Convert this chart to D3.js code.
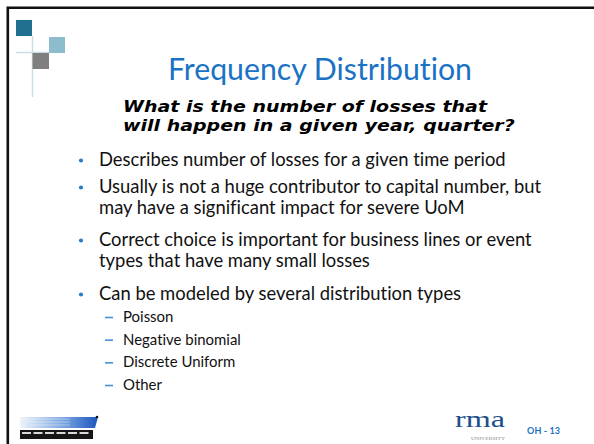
<!DOCTYPE html>
<html>
<head>
<meta charset="utf-8">
<script src="https://cdn.jsdelivr.net/npm/d3@7"></script>
<style>
  body { margin: 0; background: #fff; }
  svg { display: block; }
  text { font-variant-ligatures: none; font-feature-settings: "liga" 0; }
</style>
</head>
<body>
<svg width="594" height="444"></svg>
<script>
// slide content
const titleText = "Frequency Distribution";
const questionLines = ["What is the number of losses that", "will happen in a given year, quarter?"];
const bulletLines = [
  ["Describes number of losses for a given time period"],
  ["Usually is not a huge contributor to capital number, but", "may have a significant impact for severe UoM"],
  ["Correct choice is important for business lines or event", "types that have many small losses"],
  ["Can be modeled by several distribution types"]
];
const subItems = ["Poisson", "Negative binomial", "Discrete Uniform", "Other"];
const footerCode = "OH - 13";

// layout
const W = 594, H = 444;
const blue = "#1a72c4";
const bodyFont = "Lato, 'Open Sans', sans-serif";
const paraTop = [166, 193, 246, 300];
const wrapGap = 21;

const svg = d3.select("svg");
svg.append("rect").attr("width", W).attr("height", H).attr("fill", "#fff");

// frame (top + left)
svg.append("path")
  .attr("d", `M7.8,${H} L7.8,7.8 L${W},7.8`)
  .attr("fill", "none").attr("stroke", "#111").attr("stroke-width", 2.6);

// corner logo
const logo = svg.append("g");
logo.append("line").attr("x1", 32.5).attr("x2", 32.5).attr("y1", 36).attr("y2", 97)
  .attr("stroke", "#c9dde6").attr("stroke-width", 1.4);
logo.append("line").attr("x1", 16).attr("x2", 49).attr("y1", 52.5).attr("y2", 52.5)
  .attr("stroke", "#c9dde6").attr("stroke-width", 1.4);
logo.append("rect").attr("x", 16).attr("y", 20).attr("width", 16).attr("height", 16).attr("fill", "#21708f");
logo.append("rect").attr("x", 49).attr("y", 37).attr("width", 16).attr("height", 16).attr("fill", "#8dbccd");
logo.append("rect").attr("x", 32.5).attr("y", 53).attr("width", 16.5).attr("height", 16).attr("fill", "#7f7f7f");

function fit(sel, target) {
  const len = sel.node().getComputedTextLength();
  const fs = parseFloat(sel.attr("font-size"));
  sel.attr("font-size", fs * target / len);
}

// title
const title = svg.append("text")
  .attr("x", 168).attr("y", 80)
  .attr("font-family", bodyFont).attr("font-size", 30)
  .attr("fill", blue).text(titleText);
fit(title, 304);

// question (wide bold italic, stretched to the reference width)
const q = svg.selectAll("text.q").data(questionLines).enter().append("text")
  .attr("class", "q")
  .attr("x", 123)
  .attr("y", (d, i) => 112 + i * 19)
  .attr("font-family", "'DejaVu Sans', sans-serif")
  .attr("font-weight", "bold").attr("font-style", "italic")
  .attr("font-size", 15.5)
  .attr("fill", "#000")
  .text(d => d);
const qLens = q.nodes().map(n => n.getComputedTextLength());
const qScale = 364 / qLens[0];
q.attr("textLength", (d, i) => qLens[i] * qScale).attr("lengthAdjust", "spacingAndGlyphs");

// bullets
const body = svg.append("g");
const rows = [];
bulletLines.forEach((lines, p) => {
  lines.forEach((t, k) => rows.push({ text: t, y: paraTop[p] + k * wrapGap, first: k === 0 }));
});

body.selectAll("circle").data(rows.filter(r => r.first)).enter().append("circle")
  .attr("cx", 81).attr("cy", d => d.y - 5.5).attr("r", 2.1).attr("fill", "#2a7cc4");

const rowText = body.selectAll("text.b").data(rows).enter().append("text")
  .attr("class", "b")
  .attr("x", 99).attr("y", d => d.y)
  .attr("font-family", bodyFont).attr("font-size", 18)
  .attr("fill", "#111").text(d => d.text);
const l0 = rowText.nodes()[0].getComputedTextLength();
rowText.attr("font-size", 18 * 407 / l0);

// sub items
const subY = d3.scalePoint().domain(subItems).range([322, 390]);
body.selectAll("line.dash").data(subItems).enter().append("line")
  .attr("class", "dash")
  .attr("x1", 105).attr("x2", 113)
  .attr("y1", d => subY(d) - 4.5).attr("y2", d => subY(d) - 4.5)
  .attr("stroke", "#4a90d2").attr("stroke-width", 1.6);
const subText = body.selectAll("text.s").data(subItems).enter().append("text")
  .attr("class", "s")
  .attr("x", 123).attr("y", d => subY(d))
  .attr("font-family", bodyFont).attr("font-size", 15)
  .attr("fill", "#111").text(d => d);
const l1 = subText.nodes()[1].getComputedTextLength();
subText.attr("font-size", 15 * 118 / l1);

// bottom-left logo
const defs = svg.append("defs");
const grad = defs.append("linearGradient").attr("id", "bar");
grad.append("stop").attr("offset", "0%").attr("stop-color", "#eef3fb");
grad.append("stop").attr("offset", "55%").attr("stop-color", "#7aa6e0");
grad.append("stop").attr("offset", "100%").attr("stop-color", "#1d55bd");
const bl = svg.append("g");
bl.append("path").attr("d", "M20,417 L98,417 L95,428 L20,428 Z").attr("fill", "url(#bar)");
d3.range(3).forEach(i => {
  bl.append("line").attr("x1", 22 + i * 4).attr("x2", 70).attr("y1", 419 + i * 3).attr("y2", 419 + i * 3)
    .attr("stroke", "#fff").attr("stroke-opacity", 0.5).attr("stroke-width", 0.8);
});
bl.append("circle").attr("cx", 97).attr("cy", 417).attr("r", 1.3).attr("fill", "#111");
bl.append("rect").attr("x", 20).attr("y", 430).attr("width", 73).attr("height", 9).attr("fill", "#151515");
d3.range(6).forEach(i => {
  bl.append("rect").attr("x", 22 + i * 11.5).attr("y", 432).attr("width", 9).attr("height", 2)
    .attr("fill", "#d8d8d8");
});

// rma logo
svg.append("text")
  .attr("x", 455).attr("y", 427)
  .attr("font-family", "'Liberation Serif', serif").attr("font-size", 23)
  .attr("textLength", 50).attr("lengthAdjust", "spacingAndGlyphs")
  .attr("fill", "#1d4f8b").text("rma");
svg.append("text")
  .attr("x", 488).attr("y", 440)
  .attr("text-anchor", "middle")
  .attr("font-family", "'Liberation Serif', serif").attr("font-size", 5)
  .attr("textLength", 34).attr("lengthAdjust", "spacingAndGlyphs")
  .attr("fill", "#8a8a8a").text("UNIVERSITY");

svg.append("text")
  .attr("x", 527).attr("y", 434)
  .attr("font-family", bodyFont).attr("font-weight", "bold").attr("font-size", 9)
  .attr("textLength", 33)
  .attr("fill", blue).text(footerCode);
</script>
</body>
</html>
